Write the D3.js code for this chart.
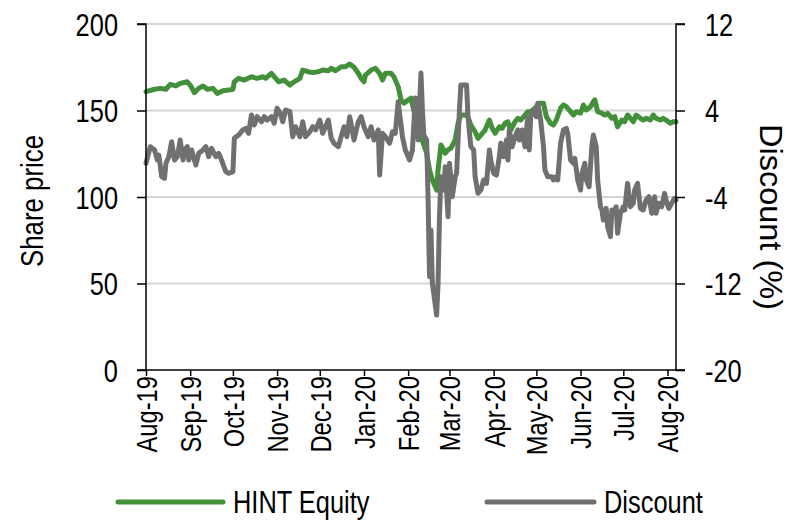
<!DOCTYPE html>
<html>
<head>
<meta charset="utf-8">
<script src="https://cdn.jsdelivr.net/npm/d3@7"></script>
<style>
  html, body { margin: 0; padding: 0; background: #fff; }
  svg { display: block; }
  text { font-family: "Liberation Sans", Arial, sans-serif; fill: #000; }
</style>
</head>
<body>
<svg id="chart" width="800" height="530"></svg>
<script>
// ---- data ----
// days since 2019-08-01
const priceDays = [0,6,10,14,17,21,24,29,31,34,37,40,43,47,50,54,58,61,62,65,69,74,78,82,84,88,91,93,97,101,104,108,110,114,117,121,124,128,130,133,137,140,143,146,149,151,153,154,158,161,164,166,168,172,174,177,179,181,184,186,189,191,193,197,199,201,204,205,207,210,212,214,217,219,221,224,226,228,231,233,235,238,241,243,245,248,250,252,254,256,259,261,263,266,268,270,273,276,279,281,284,286,288,291,293,295,298,300,302,305,307,309,312,314,315,317,320,322,324,327,329,331,334,336,338,340,342,344,347,349,351,354,356,358,361,363,365,368,370,372];
const priceValues = [160.9,162.3,162.8,162.3,165.1,164.2,165.7,166.6,164.7,160.3,162.8,164.2,162.3,162.8,159.9,161.4,161.8,162.3,166.6,168.6,167.6,169.5,168.6,169.5,168.6,171.5,168.6,166.6,167.6,164.7,166.6,168.6,173.4,172.4,171.9,172.4,173.4,173.0,174.4,173.0,175.3,175.3,176.9,175.0,171.5,168.6,166.6,170.5,173.4,174.4,171.5,167.6,171.5,171.5,169.5,163.8,156.1,154.2,156.1,157.1,146.4,138.7,134.9,125.3,115.6,109.8,104.0,115.6,130.1,125.3,127.2,128.2,132.9,142.6,147.4,147.4,146.4,141.6,137.7,133.9,135.8,138.7,144.5,139.7,136.8,140.6,139.7,142.6,143.5,138.7,143.5,145.5,144.5,147.4,149.3,149.3,151.3,154.2,154.2,146.4,142.6,141.6,144.5,151.3,153.2,152.2,149.3,147.4,149.3,148.4,153.2,150.3,152.2,155.1,156.1,149.3,148.4,147.4,148.4,145.5,146.4,140.6,144.5,143.5,147.4,145.5,143.5,147.4,145.5,144.5,145.5,144.5,147.4,145.5,144.5,145.5,144.5,142.6,143.5,143.5];

const discDays = [0,3,6,8,9,11,13,14,16,18,20,22,24,26,27,29,30,32,35,37,40,42,44,46,49,51,53,56,58,61,62,65,68,70,72,74,76,78,81,83,85,88,90,92,94,96,98,101,103,105,108,110,112,115,117,119,122,124,126,128,130,132,135,137,139,141,143,146,149,151,153,156,158,160,163,164,166,168,171,173,175,177,180,182,185,187,189,190,191,193,194,195,197,198,199,200,201,204,205,206,207,209,210,212,213,215,217,218,220,221,225,226,228,230,231,233,235,237,239,241,242,244,246,248,249,251,253,254,255,257,259,261,262,264,266,268,269,270,272,274,275,277,279,280,282,285,286,288,289,291,293,295,296,298,300,301,303,305,306,308,309,311,313,314,316,317,319,320,321,323,324,326,327,328,330,331,333,335,336,338,340,342,343,345,347,349,351,353,355,357,358,360,362,364,365,367,369,371,372];
const discValues = [-0.88,0.65,0.35,-0.58,-0.12,-2.12,-2.27,-0.88,-0.27,1.11,-0.58,-0.27,1.27,-0.58,0.35,0.65,-0.58,0.35,-1.04,0.04,0.35,0.65,-0.27,0.5,-0.27,0.04,-0.58,-1.66,-1.81,-1.66,1.43,1.73,2.2,2.35,1.89,3.58,2.66,3.43,2.96,3.43,3.12,3.43,2.82,4.2,3.8,2.96,4.05,3.89,1.58,2.5,1.58,2.96,1.58,2.04,2.5,2.2,3.12,1.89,2.5,3.12,1.43,0.97,0.65,1.58,2.5,1.58,3.43,1.27,2.96,3.43,2.5,1.58,2.5,1.27,2.2,-1.97,1.89,1.58,0.97,2.04,1.89,4.81,1.58,0.35,-0.58,0.35,5.16,4.97,1.27,7.47,4.05,1.73,1.27,-4.28,-11.37,-7.05,-11.98,-14.92,-11.95,-5.82,-2.12,-3.35,-1.2,-5.82,-0.88,-3.97,-2.12,-1.81,4.05,6.36,6.36,3.43,0.65,0.35,-2.12,-3.66,-3.35,-2.43,-2.73,0.35,-0.58,-1.81,-1.97,-0.27,0.97,-0.27,1.27,-0.58,2.2,0.65,1.58,2.2,1.27,2.2,0.65,3.43,0.35,3.43,4.05,3.43,4.67,3.12,0.65,-1.5,-2.12,-2.12,-2.43,-2.12,-2.43,0.97,2.2,2.35,1.89,-0.58,-0.88,-0.42,-2.43,-3.35,-1.81,-0.88,-2.43,-3.05,0.81,1.73,0.65,-2.43,-4.9,-5.2,-6.13,-5.05,-6.75,-7.67,-5.2,-5.51,-4.9,-7.36,-5.51,-4.9,-5.2,-2.74,-4.9,-4.58,-3.35,-2.74,-5.05,-5.2,-4.28,-3.97,-5.51,-3.97,-5.51,-4.58,-4.9,-3.66,-4.28,-5.05,-4.58,-4.12,-4.28];

const leftTicks = [0, 50, 100, 150, 200];
const rightTicks = [-20, -12, -4, 4, 12];
const monthTicks = ["2019-08-01","2019-09-01","2019-10-01","2019-11-01","2019-12-01","2020-01-01","2020-02-01","2020-03-01","2020-04-01","2020-05-01","2020-06-01","2020-07-01","2020-08-01"];
const seriesNames = ["HINT Equity", "Discount"];
const seriesColors = ["#43903a", "#707070"];

// ---- layout ----
const M = { left: 146, right: 676, top: 24, bottom: 370 };
const NARROW = 0.82; // emulate a narrow sans face
const startDate = new Date(2019, 7, 1);
const endDate = new Date(2020, 7, 7);
const parse = d3.timeParse("%Y-%m-%d");
const dayToDate = n => d3.timeDay.offset(startDate, n);

const x = d3.scaleTime().domain([startDate, endDate]).range([M.left, M.right]);
const yL = d3.scaleLinear().domain([0, 200]).range([M.bottom, M.top]);
const yR = d3.scaleLinear().domain([-20, 12]).range([M.bottom, M.top]);

const svg = d3.select("#chart");

// gridlines
svg.append("g").selectAll("line").data(leftTicks.filter(d => d > 0)).join("line")
  .attr("x1", M.left).attr("x2", M.right)
  .attr("y1", d => yL(d)).attr("y2", d => yL(d))
  .attr("stroke", "#d4d4d4").attr("stroke-width", 2);

// lines
const priceData = priceDays.map((d, i) => ({ date: dayToDate(d), v: priceValues[i] }));
const discData = discDays.map((d, i) => ({ date: dayToDate(d), v: discValues[i] }));

svg.append("path").datum(priceData)
  .attr("fill", "none").attr("stroke", seriesColors[0]).attr("stroke-width", 5)
  .attr("stroke-linejoin", "round").attr("stroke-linecap", "round")
  .attr("d", d3.line().x(d => x(d.date)).y(d => yL(d.v)));

svg.append("path").datum(discData)
  .attr("fill", "none").attr("stroke", seriesColors[1]).attr("stroke-width", 5)
  .attr("stroke-linejoin", "round").attr("stroke-linecap", "round")
  .attr("d", d3.line().x(d => x(d.date)).y(d => yR(d.v)));

// axes
const fs = 31;
const axL = svg.append("g").attr("transform", `translate(${M.left},0)`)
  .call(d3.axisLeft(yL).tickValues(leftTicks).tickSize(9).tickPadding(19).tickFormat(d => String(d)));
const axR = svg.append("g").attr("transform", `translate(${M.right},0)`)
  .call(d3.axisRight(yR).tickValues(rightTicks).tickSize(9).tickPadding(20).tickFormat(d => String(d)));
const axB = svg.append("g").attr("transform", `translate(0,${M.bottom})`)
  .call(d3.axisBottom(x).tickValues(monthTicks.map(parse)).tickSize(6).tickFormat(d3.timeFormat("%b-%y")));

[axL, axR, axB].forEach(g => {
  g.select(".domain").attr("stroke", "#000").attr("stroke-width", 1.5);
  g.selectAll(".tick line").attr("stroke", "#000").attr("stroke-width", 1.5);
  g.selectAll("text").attr("font-family", null).style("font-size", fs + "px").attr("fill", "#000");
});
axL.selectAll(".domain").attr("d", `M-9,${M.top}H0V${M.bottom}H-9`);
axR.selectAll(".domain").attr("d", `M9,${M.top}H0V${M.bottom}H9`);
axB.selectAll(".domain").attr("d", `M${M.left},0H${M.right}`);

axL.selectAll(".tick text").attr("x", -28 / NARROW).attr("dy", "0.36em").attr("transform", `scale(${NARROW},1)`);
axR.selectAll(".tick text").attr("x", 29 / NARROW).attr("dy", "0.36em").attr("transform", `scale(${NARROW},1)`);
axB.selectAll(".tick text")
  .style("font-size", "29px")
  .attr("text-anchor", "end")
  .attr("transform", `rotate(-90) scale(${NARROW},1)`)
  .attr("x", -6 / NARROW).attr("y", 0).attr("dy", "0.36em");

// axis titles
svg.append("text").attr("transform", `translate(43,201) rotate(-90)`)
  .attr("text-anchor", "middle").style("font-size", fs + "px")
  .attr("textLength", 132).attr("lengthAdjust", "spacingAndGlyphs").text("Share price");
svg.append("text").attr("transform", `translate(760,217) rotate(90)`)
  .attr("text-anchor", "middle").style("font-size", fs + "px")
  .attr("textLength", 186).attr("lengthAdjust", "spacingAndGlyphs").text("Discount (%)");

// legend
const leg = [
  { x1: 118, x2: 223, tx: 233 },
  { x1: 487, x2: 594, tx: 604 }
];
leg.forEach((l, i) => {
  svg.append("line").attr("x1", l.x1).attr("x2", l.x2).attr("y1", 502).attr("y2", 502)
    .attr("stroke", seriesColors[i]).attr("stroke-width", 5).attr("stroke-linecap", "round");
  svg.append("text").attr("transform", `translate(${l.tx},513) scale(${NARROW},1)`)
    .style("font-size", fs + "px").text(seriesNames[i]);
});
</script>
</body>
</html>
